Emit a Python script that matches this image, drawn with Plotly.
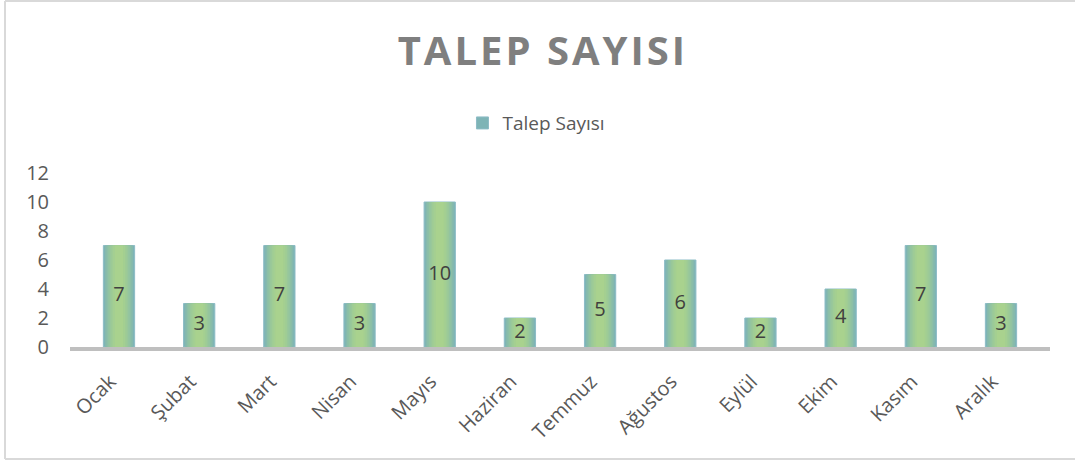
import plotly.graph_objects as go

months = ["Ocak", "Şubat", "Mart", "Nisan", "Mayıs", "Haziran", "Temmuz",
          "Ağustos", "Eylül", "Ekim", "Kasım", "Aralık"]
talep = [7, 3, 7, 3, 10, 2, 5, 6, 2, 4, 7, 3]
y_ticks = [0, 2, 4, 6, 8, 10, 12]

# gradient layers (outer -> inner): width, colour
layers = [
    (0.39, "#7eb4b6"),
    (0.35, "#85b9ad"),
    (0.31, "#8cbfa6"),
    (0.27, "#93c4a0"),
    (0.23, "#99c89a"),
    (0.19, "#9fcc95"),
    (0.15, "#a4cf91"),
    (0.10, "#a9d28e"),
]

fig = go.Figure()
for i, (w, c) in enumerate(layers):
    fig.add_trace(go.Bar(
        x=months, y=talep, width=w,
        name="Talep Sayısı",
        marker=dict(color=c,
                    line=dict(color="#8dbcc6", width=1) if i == 0 else dict(width=0)),
        showlegend=(i == 0),
        hoverinfo="skip" if i else None,
    ))

fig.add_trace(go.Scatter(
    x=months, y=[v / 2 for v in talep], mode="text",
    text=[str(v) for v in talep], textposition="middle center",
    textfont=dict(family="Open Sans", size=20, color="#404040"),
    showlegend=False, hoverinfo="skip",
))

bx0, bx1 = -65 / 980, 1.1
by0, by1 = -112 / 174, (174 + 172) / 174
border = dict(color="#d9d9d9", width=2)

fig.update_layout(
    width=1075, height=461,
    barmode="overlay",
    paper_bgcolor="white", plot_bgcolor="white",
    margin=dict(l=70, r=25, t=173, b=114),
    title=dict(text="<b>TALEP SAYISI</b>", x=0.505, xanchor="center",
               y=0.889, yanchor="middle", yref="container",
               font=dict(family="Open Sans", size=40, color="#7f7f7f")),
    legend=dict(orientation="h", x=0.476, xanchor="center", y=0.733, yanchor="middle",
                yref="container",
                font=dict(family="Open Sans", size=19, color="#595959")),
    xaxis=dict(showgrid=False, showline=True, linecolor="#bfbfbf", linewidth=4,
               tickangle=-45, tickfont=dict(family="Open Sans", size=20, color="#595959"),
               ticks="", zeroline=False, ticklabelstandoff=11, ticklabelshift=-9),
    yaxis=dict(range=[0, 12], tickvals=y_ticks, showgrid=False, zeroline=False,
               showline=False, ticks="", ticklabelstandoff=20,
               tickfont=dict(family="Open Sans", size=20, color="#595959")),
    shapes=[
        dict(type="line", xref="paper", yref="paper", x0=bx0, x1=bx1, y0=by1, y1=by1,
             line=border, layer="below"),
        dict(type="line", xref="paper", yref="paper", x0=bx0, x1=bx1, y0=by0, y1=by0,
             line=border, layer="below"),
        dict(type="line", xref="paper", yref="paper", x0=bx0, x1=bx0, y0=by0, y1=by1,
             line=border, layer="below"),
    ],
)

post = """
document.body.style.margin='0';
document.querySelectorAll('.gtitle').forEach(function(t){
  t.style.letterSpacing='3px';
});
"""
fig.write_html("out.html", post_script=post, config={"displayModeBar": False})
